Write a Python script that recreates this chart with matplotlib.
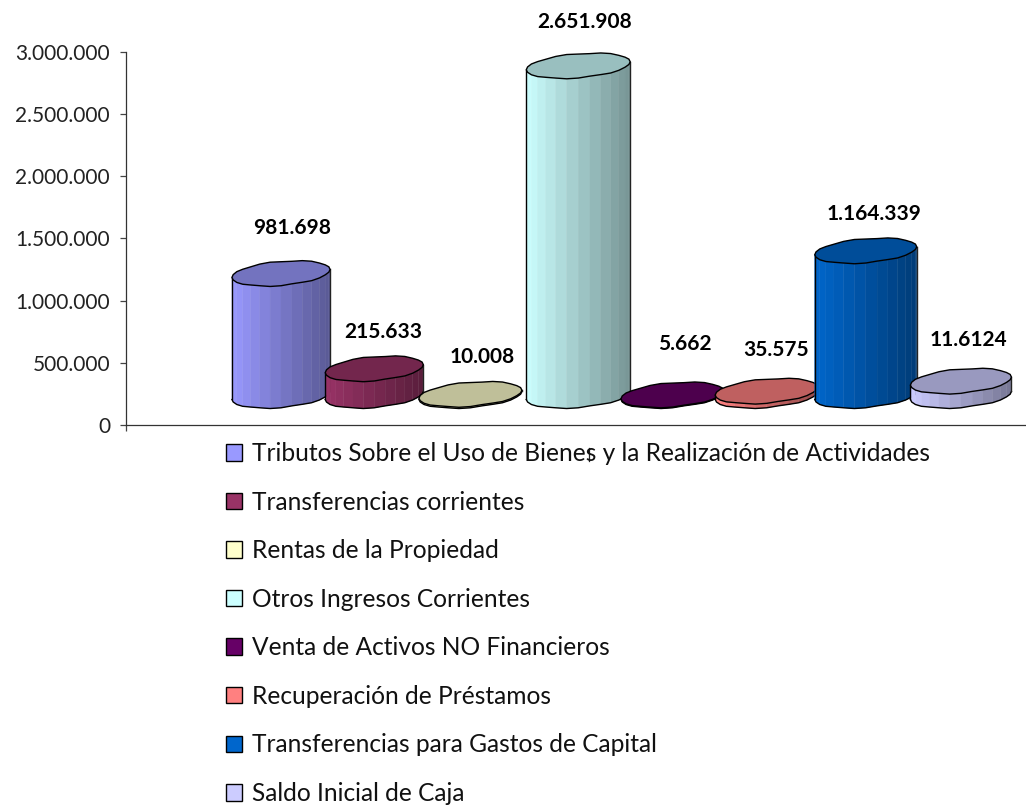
import numpy as np
import matplotlib
matplotlib.use('Agg')
import matplotlib.pyplot as plt
from matplotlib.colors import to_rgb
from matplotlib.patches import Patch, Polygon

categories = ['Tributos Sobre el Uso de Bienes y la Realización de Actividades',
              'Transferencias corrientes',
              'Rentas de la Propiedad',
              'Otros Ingresos Corrientes',
              'Venta de Activos NO Financieros',
              'Recuperación de Préstamos',
              'Transferencias para Gastos de Capital',
              'Saldo Inicial de Caja']
values = [981698, 215633, 10008, 2651908, 5662, 35575, 1164339, 116124]
value_labels = ['981.698', '215.633', '10.008', '2.651.908', '5.662', '35.575', '1.164.339', '11.6124']
colors = ['#9999FF', '#993366', '#FFFFCC', '#CCFFFF', '#660066', '#FF8080', '#0066CC', '#CCCCFF']
y_ticks = [0, 500000, 1000000, 1500000, 2000000, 2500000, 3000000]
y_labels = ['0', '500.000', '1.000.000', '1.500.000', '2.000.000', '2.500.000', '3.000.000']

# small layout corrections, the bars are not evenly spaced in the original
nudge = [0, -0.04, -0.05, 0.06, 0.03, 0, 0.02, 0]
half_width = [0.505, 0.505, 0.53, 0.535, 0.53, 0.53, 0.525, 0.52]
label_dx = [11, 9, 12, 6, 12, 9, 8, 7]
label_dy = [45, 37, 37, 44, 51, 41, 37, 41]

W, H = 1026, 805
fig = plt.figure(figsize=(W / 100, H / 100), dpi=100)
ax = fig.add_axes([126 / W, 1 - 425 / H, (W - 126) / W, 373 / H])

ax.set_ylim(0, 3000000)
ax.set_xlim(-1.596, 7.67)
per_px = 3000000 / 373

b = 12.0 * per_px  # half height of the ellipse
shear = 4 * per_px
lift = 29.5 * per_px  # the floor of the 3d chart sits above the axis


def outline(t, a):
    w = 1 + 0.045 * np.sin(7 * t + 1)
    dx = a * np.cos(t)
    dy = b * np.sin(t) * w + shear * np.cos(t)
    return dx, dy


for i, v in enumerate(values):
    cx = i + nudge[i]
    a = half_width[i]
    c = np.array(to_rgb(colors[i]))
    z = 3 + i
    bottom = lift
    top = lift + v

    t = np.linspace(np.pi, 2 * np.pi, 15)
    dx, dy = outline(t, a)
    for k in range(len(t) - 1):
        frac = (dx[k] + dx[k + 1]) / 2 / a / 2 + 0.5
        shade = 1 - 0.42 * frac
        xs = [cx + dx[k], cx + dx[k + 1], cx + dx[k + 1], cx + dx[k]]
        ys = [bottom + dy[k], bottom + dy[k + 1], top + dy[k + 1], top + dy[k]]
        ax.fill(xs, ys, color=c * shade, lw=0.3, zorder=z, clip_on=False)
    ax.plot(cx + dx, bottom + dy, color='black', lw=1, zorder=z, clip_on=False)
    ax.plot([cx + dx[0]] * 2, [bottom + dy[0], top + dy[0]], color='black', lw=1, zorder=z, clip_on=False)
    ax.plot([cx + dx[-1]] * 2, [bottom + dy[-1], top + dy[-1]], color='#222222', lw=1, zorder=z, clip_on=False)

    t2 = np.linspace(0, 2 * np.pi, 29)[:-1]
    dx2, dy2 = outline(t2, a)
    ax.add_patch(Polygon(np.column_stack([cx + dx2, top + dy2]), closed=True, facecolor=c * 0.75,
                         edgecolor='black', lw=1, zorder=z + 0.5, clip_on=False))

    ax.annotate(value_labels[i], (cx, top), xytext=(label_dx[i], label_dy[i]), textcoords='offset pixels',
                ha='center', va='center', fontsize=15, fontweight='bold', family='Lato',
                color='black', zorder=20, annotation_clip=False)

for s in ['top', 'right']:
    ax.spines[s].set_visible(False)
for s in ['left', 'bottom']:
    ax.spines[s].set_color('#333333')
    ax.spines[s].set_linewidth(0.9)

ax.set_yticks(y_ticks)
ax.set_yticklabels(y_labels, fontsize=15, family='Lato', color='#222222')
ax.tick_params(axis='y', length=4.5, width=0.9, color='#444444', pad=7)
ax.set_xticks([-1.596])
ax.set_xticklabels([''])
ax.tick_params(axis='x', length=4.5, width=0.9, color='#444444')

handles = [Patch(facecolor=c, edgecolor='black', lw=1) for c in colors]
fs = 17.65
leg = fig.legend(handles, categories, loc='upper left', bbox_to_anchor=(226 / W, 1 - 442 / H),
                 bbox_transform=fig.transFigure, frameon=False, ncol=1,
                 prop={'family': 'Lato', 'size': fs},
                 handlelength=11.5 / fs, handleheight=11.5 / fs, handletextpad=0.42,
                 labelspacing=1.043, borderpad=0, borderaxespad=0)
for text in leg.get_texts():
    text.set_color('#111111')

# text cursor left over in the screenshot
fig.add_artist(plt.Line2D([589 / W, 589 / W], [1 - 448 / H, 1 - 461 / H], color='#222222', lw=0.9))

fig.savefig('out.png', dpi=100)
